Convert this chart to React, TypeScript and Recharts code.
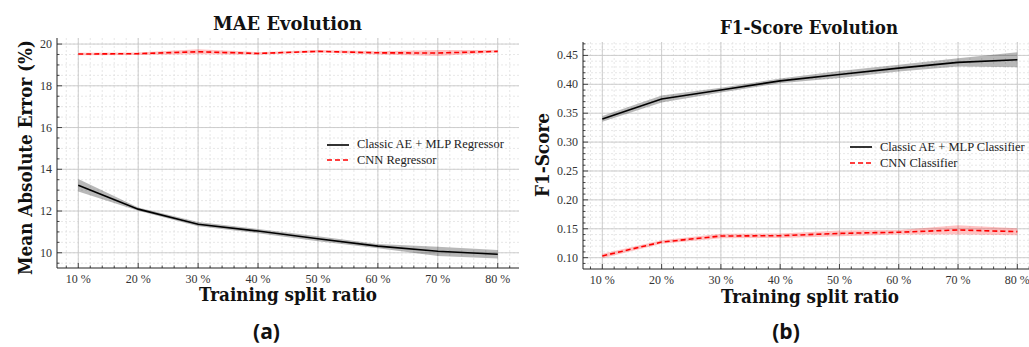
import React from 'react';
import { ComposedChart, Line, Area, XAxis, YAxis, CartesianGrid, Legend } from 'recharts';

// training split ratios (%)
const splits = [10, 20, 30, 40, 50, 60, 70, 80];

// MAE (%) - mean and spread
const maeClassic = [13.24, 12.09, 11.37, 11.04, 10.67, 10.32, 10.07, 9.93];
const maeClassicStd = [0.3, 0.08, 0.1, 0.1, 0.12, 0.1, 0.22, 0.2];
const maeCnn = [19.52, 19.54, 19.63, 19.55, 19.65, 19.58, 19.57, 19.65];
const maeCnnStd = [0.06, 0.06, 0.12, 0.06, 0.06, 0.08, 0.14, 0.06];

// F1-score - mean and spread
const f1Classic = [0.34, 0.3745, 0.39, 0.406, 0.417, 0.428, 0.438, 0.4425];
const f1ClassicStd = [0.005, 0.006, 0.004, 0.004, 0.006, 0.006, 0.007, 0.013];
const f1Cnn = [0.103, 0.127, 0.1375, 0.138, 0.142, 0.144, 0.148, 0.145];
const f1CnnStd = [0.004, 0.003, 0.004, 0.004, 0.005, 0.004, 0.008, 0.006];

const maeYTicks = [10, 12, 14, 16, 18, 20];
const f1YTicks = [0.1, 0.15, 0.2, 0.25, 0.3, 0.35, 0.4, 0.45];

const SERIF = '"Liberation Serif", serif';
const BOLD_SERIF = '"DejaVu Serif", serif';
const FRAME = '#222';

function steps(start: number, stop: number, step: number) {
  const out: number[] = [];
  for (let v = start; v <= stop + 1e-9; v += step) out.push(Math.round(v * 1000) / 1000);
  return out;
}

const xMinor = steps(8, 82, 2);
const maeYMinor = steps(9.5, 20, 0.5);
const f1YMinor = steps(0.09, 0.47, 0.01);

const isMajor = (v: number, majors: number[]) => majors.some((m) => Math.abs(m - v) < 1e-6);

function buildRows(a: number[], aStd: number[], b: number[], bStd: number[]) {
  return splits.map((s, i) => ({
    split: s,
    classic: a[i],
    classicBand: [a[i] - aStd[i], a[i] + aStd[i]],
    cnn: b[i],
    cnnBand: [b[i] - bStd[i], b[i] + bStd[i]],
  }));
}

const maeRows = buildRows(maeClassic, maeClassicStd, maeCnn, maeCnnStd);
const f1Rows = buildRows(f1Classic, f1ClassicStd, f1Cnn, f1CnnStd);

function XTick(props: any) {
  const { x, y, payload, dir, label } = props;
  const major = isMajor(payload.value, splits);
  const len = major ? 5 : 2.5;
  return (
    <g>
      <line x1={x} x2={x} y1={y} y2={y + dir * len} stroke={FRAME} strokeWidth={0.8} />
      {label && major && (
        <text x={x} y={y + 15} textAnchor="middle" fontFamily={SERIF} fontSize={12} fill="#333">
          {payload.value} %
        </text>
      )}
    </g>
  );
}

function YTick(props: any) {
  const { x, y, payload, dir, majors, label, fmt } = props;
  const major = isMajor(payload.value, majors);
  const len = major ? 5 : 2.5;
  return (
    <g>
      <line x1={x} x2={x + dir * len} y1={y} y2={y} stroke={FRAME} strokeWidth={0.8} />
      {label && major && (
        <text x={x - 5} y={y + 4} textAnchor="end" fontFamily={SERIF} fontSize={12} fill="#333">
          {fmt(payload.value)}
        </text>
      )}
    </g>
  );
}

const seriesOrder = ['classic', 'cnn'];

function LegendBox(props: any) {
  const { payload, lineHeight } = props;
  const items = (payload || [])
    .filter((e: any) => e.type !== 'none' && seriesOrder.includes(e.dataKey))
    .sort((a: any, b: any) => seriesOrder.indexOf(a.dataKey) - seriesOrder.indexOf(b.dataKey));
  return (
    <div style={{ fontFamily: SERIF, fontSize: 12.5, color: '#222', lineHeight: `${lineHeight}px` }}>
      {items.map((e: any) => (
        <div key={e.value} style={{ display: 'flex', alignItems: 'center', whiteSpace: 'nowrap' }}>
          <svg width={31} height={10} style={{ display: 'block' }}>
            <line
              x1={1}
              x2={23}
              y1={5}
              y2={5}
              stroke={e.color}
              strokeWidth={1.6}
              strokeDasharray={e.dataKey === 'cnn' ? '5 3' : undefined}
            />
          </svg>
          <span>{e.value}</span>
        </div>
      ))}
    </div>
  );
}

type PanelProps = {
  rows: any[];
  xDomain: [number, number];
  yDomain: [number, number];
  yMajor: number[];
  yMinor: number[];
  fmt: (v: number) => string;
  margin: { top: number; right: number; bottom: number; left: number };
  names: [string, string];
  legendPos: { left: number; top: number; lineHeight: number };
};

function Panel({ rows, xDomain, yDomain, yMajor, yMinor, fmt, margin, names, legendPos }: PanelProps) {
  return (
    <ComposedChart width={530} height={300} data={rows} margin={margin}>
      <CartesianGrid
        verticalValues={xMinor}
        horizontalValues={yMinor}
        stroke="#dcdcdc"
        strokeDasharray="2 2"
        strokeWidth={0.7}
      />
      <CartesianGrid verticalValues={splits} horizontalValues={yMajor} stroke="#c8c8c8" strokeWidth={0.9} />
      <XAxis
        dataKey="split"
        type="number"
        domain={xDomain}
        allowDataOverflow
        ticks={xMinor}
        interval={0}
        height={30}
        tickSize={0}
        tickMargin={0}
        tickLine={false}
        axisLine={{ stroke: FRAME }}
        tick={(p: any) => <XTick {...p} dir={-1} label />}
      />
      <XAxis
        xAxisId="top"
        orientation="top"
        type="number"
        domain={xDomain}
        allowDataOverflow
        ticks={xMinor}
        interval={0}
        height={0}
        tickSize={0}
        tickMargin={0}
        tickLine={false}
        axisLine={{ stroke: FRAME }}
        tick={(p: any) => <XTick {...p} dir={1} />}
      />
      <YAxis
        type="number"
        domain={yDomain}
        allowDataOverflow
        ticks={yMinor}
        interval={0}
        width={40}
        tickSize={0}
        tickMargin={0}
        tickLine={false}
        axisLine={{ stroke: FRAME }}
        tick={(p: any) => <YTick {...p} dir={1} majors={yMajor} fmt={fmt} label />}
      />
      <YAxis
        yAxisId="right"
        orientation="right"
        type="number"
        domain={yDomain}
        allowDataOverflow
        ticks={yMinor}
        interval={0}
        width={0}
        tickSize={0}
        tickMargin={0}
        tickLine={false}
        axisLine={{ stroke: FRAME }}
        tick={(p: any) => <YTick {...p} dir={-1} majors={yMajor} fmt={fmt} />}
      />
      <Area
        type="linear"
        dataKey="classicBand"
        fill="#000"
        fillOpacity={0.28}
        stroke="none"
        legendType="none"
        isAnimationActive={false}
      />
      <Area
        type="linear"
        dataKey="cnnBand"
        fill="#ff0000"
        fillOpacity={0.24}
        stroke="none"
        legendType="none"
        isAnimationActive={false}
      />
      <Line
        type="linear"
        dataKey="classic"
        name={names[0]}
        stroke="#000"
        strokeWidth={1.6}
        dot={false}
        isAnimationActive={false}
      />
      <Line
        type="linear"
        dataKey="cnn"
        name={names[1]}
        stroke="#ff0000"
        strokeWidth={1.6}
        strokeDasharray="5 3"
        dot={false}
        isAnimationActive={false}
      />
      <Legend
        layout="vertical"
        align="center"
        verticalAlign="middle"
        wrapperStyle={{ left: legendPos.left, top: legendPos.top, width: 'auto', height: 'auto' }}
        content={(p: any) => <LegendBox {...p} lineHeight={legendPos.lineHeight} />}
      />
    </ComposedChart>
  );
}

export default function App() {
  const bold = { fontFamily: BOLD_SERIF, fontWeight: 700, fill: '#111', lengthAdjust: 'spacingAndGlyphs' } as const;
  return (
    <div
      style={{
        position: 'fixed',
        left: 0,
        top: 0,
        width: 1029,
        height: 347,
        overflow: 'hidden',
        background: '#fff',
      }}
    >
      <div style={{ position: 'absolute', left: 0, top: 0 }}>
        <Panel
          rows={maeRows}
          xDomain={[6.45, 83.55]}
          yDomain={[9.27, 20.29]}
          yMajor={maeYTicks}
          yMinor={maeYMinor}
          fmt={(v) => String(v)}
          margin={{ top: 38, right: 11, bottom: 2, left: 17 }}
          names={['Classic AE + MLP Regressor', 'CNN Regressor']}
          legendPos={{ left: 326, top: 137, lineHeight: 15.5 }}
        />
      </div>
      <div style={{ position: 'absolute', left: 520, top: 0 }}>
        <Panel
          rows={f1Rows}
          xDomain={[6.74, 83.32]}
          yDomain={[0.0804, 0.4732]}
          yMajor={f1YTicks}
          yMinor={f1YMinor}
          fmt={(v) => v.toFixed(2)}
          margin={{ top: 42, right: 13, bottom: 1, left: 23 }}
          names={['Classic AE + MLP Classifier', 'CNN Classifier']}
          legendPos={{ left: 329, top: 139, lineHeight: 16 }}
        />
      </div>
      <svg
        width={1029}
        height={347}
        style={{ position: 'absolute', left: 0, top: 0, pointerEvents: 'none' }}
      >
        <text x={287.5} y={30} textAnchor="middle" fontSize={18} textLength={149} {...bold}>
          MAE Evolution
        </text>
        <text x={809} y={34} textAnchor="middle" fontSize={18} textLength={178} {...bold}>
          F1-Score Evolution
        </text>
        <text x={288} y={301} textAnchor="middle" fontSize={18} textLength={178} {...bold}>
          Training split ratio
        </text>
        <text x={810} y={302.5} textAnchor="middle" fontSize={18} textLength={178} {...bold}>
          Training split ratio
        </text>
        <text transform="translate(32,157.5) rotate(-90)" textAnchor="middle" fontSize={18} textLength={235} {...bold}>
          Mean Absolute Error (%)
        </text>
        <text transform="translate(549,155) rotate(-90)" textAnchor="middle" fontSize={18} textLength={84} {...bold}>
          F1-Score
        </text>
        <text x={266.5} y={339} textAnchor="middle" fontSize={21} fontFamily="'Open Sans', sans-serif" fontWeight={700} fill="#111">
          (a)
        </text>
        <text x={786} y={339} textAnchor="middle" fontSize={21} fontFamily="'Open Sans', sans-serif" fontWeight={700} fill="#111">
          (b)
        </text>
      </svg>
    </div>
  );
}
